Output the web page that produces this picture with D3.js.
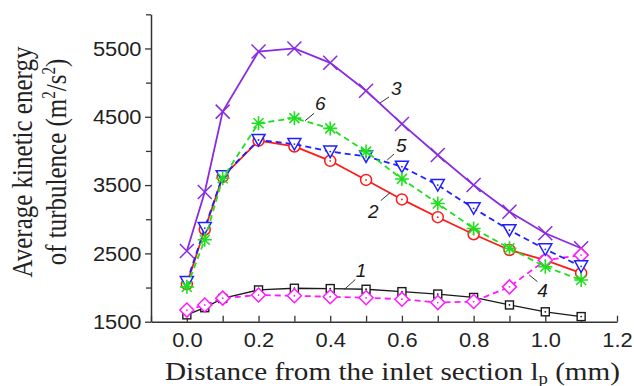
<!DOCTYPE html>
<html>
<head>
<meta charset="utf-8">
<script src="https://cdn.jsdelivr.net/npm/d3@7"></script>
<style>
  body { margin: 0; background: #fff; }
</style>
</head>
<body>
<div id="chart"></div>
<script>
// distance from the inlet section, mm
const distance = [0, 0.05, 0.1, 0.2, 0.3, 0.4, 0.5, 0.6, 0.7, 0.8, 0.9, 1.0, 1.1];

// average kinetic energy of turbulence, m2/s2
const curve1 = [1600, 1705, 1840, 1965, 1990, 1985, 1975, 1940, 1905, 1855, 1745, 1645, 1575];
const curve2 = [2050, 2850, 3620, 4150, 4065, 3855, 3575, 3290, 3030, 2780, 2550, 2400, 2210];
const curve3 = [2535, 3400, 4575, 5455, 5500, 5290, 4880, 4395, 3940, 3500, 3110, 2795, 2575];
const curve4 = [1670, 1745, 1845, 1890, 1880, 1865, 1850, 1830, 1780, 1795, 2010, 2400, 2475];
const curve5 = [2080, 2870, 3630, 4160, 4100, 3990, 3920, 3770, 3500, 3160, 2840, 2560, 2310];
const curve6 = [2010, 2700, 3600, 4405, 4480, 4330, 3990, 3590, 3230, 2865, 2575, 2305, 2110];

const xTicks = [-0.1, 0, 0.1, 0.2, 0.3, 0.4, 0.5, 0.6, 0.7, 0.8, 0.9, 1.0, 1.1, 1.2];
const yTicks = [1500, 2000, 2500, 3000, 3500, 4000, 4500, 5000, 5500, 6000];

// curve numbers: text anchor and leader line, in data units
const labelNames = ["1", "2", "3", "4", "5", "6"];
const labelAt = [[0.486, 2150], [0.520, 3020], [0.584, 4820], [0.992, 1862], [0.598, 3985], [0.372, 4600]];
const leaders = [
  [0.439, 1971, 0.470, 2118],
  [0.567, 3389, 0.541, 3272],
  [0.539, 4702, 0.564, 4790],
  [0.955, 2184, 0.978, 2086],
  [0.559, 3867, 0.578, 3955],
  [0.330, 4443, 0.355, 4551]
];

const series = [
  { values: curve1, color: "#1a1a1a", dash: null, marker: "square", width: 1.3 },
  { values: curve2, color: "#ff1a1a", dash: null, marker: "circle", width: 1.8 },
  { values: curve3, color: "#8a2be2", dash: null, marker: "cross", width: 1.8 },
  { values: curve4, color: "#ff1aff", dash: "6,4", marker: "diamond", width: 1.8 },
  { values: curve5, color: "#1f1fff", dash: "6,4", marker: "triangle", width: 1.8 },
  { values: curve6, color: "#1fe01f", dash: "6,4", marker: "star", width: 1.8 }
];

const width = 634, height = 386;
const serif = "'Liberation Serif', 'Times New Roman', serif";
const sans = "'Liberation Sans', Arial, sans-serif";

const svg = d3.select("#chart").append("svg")
  .attr("width", width)
  .attr("height", height);

const x = d3.scaleLinear().domain([-0.1, 1.2]).range([151, 617]);
const y = d3.scaleLinear().domain([1500, 6000]).range([321.7, 14.3]);

const stretch = 1.12;
function widen(sel) {
  sel.each(function() {
    const w = this.getComputedTextLength();
    d3.select(this).attr("textLength", w * stretch).attr("lengthAdjust", "spacingAndGlyphs");
  });
}

// y axis
const yAxis = svg.append("g")
  .attr("transform", `translate(${x(-0.1)},0)`)
  .call(d3.axisLeft(y).tickValues(yTicks).tickSizeOuter(0)
    .tickFormat(d => (d - 1500) % 1000 === 0 ? d : ""));
yAxis.select(".domain").attr("stroke", "#333").attr("stroke-width", 1.5);
yAxis.selectAll(".tick line").attr("stroke", "#333").attr("stroke-width", 1.3)
  .attr("x2", d => (d - 1500) % 1000 === 0 ? -6 : -5);
yAxis.selectAll(".tick text")
  .attr("x", -9.5).attr("dy", "0.35em")
  .attr("fill", "#222")
  .style("font-family", sans)
  .style("font-size", "19.5px")
  .call(widen);

// x axis
const xAxis = svg.append("g")
  .attr("transform", `translate(0,${y(1500)})`)
  .call(d3.axisBottom(x).tickValues(xTicks).tickSizeInner(-6).tickSizeOuter(0)
    .tickFormat(d => Math.round(d * 10) % 2 === 0 && d >= 0 ? d3.format(".1f")(d) : ""));
xAxis.select(".domain").attr("stroke", "#333").attr("stroke-width", 1.5);
xAxis.selectAll(".tick line").attr("stroke", "#333").attr("stroke-width", 1.3);
xAxis.selectAll(".tick text")
  .attr("y", 25).attr("dy", 0)
  .attr("fill", "#222")
  .style("font-family", sans)
  .style("font-size", "19.5px")
  .call(widen);

// axis titles
svg.append("text")
  .attr("x", 392.5).attr("y", 380)
  .attr("text-anchor", "middle")
  .attr("textLength", 455).attr("lengthAdjust", "spacingAndGlyphs")
  .style("font-family", serif)
  .style("font-size", "25px")
  .attr("fill", "#222")
  .html('Distance from the inlet section l<tspan dy="4" font-size="16px">p</tspan><tspan dy="-4"> (mm)</tspan>');

const yTitle = svg.append("g")
  .attr("transform", "translate(32,162) scale(1.22,1) rotate(-90)");
yTitle.append("text").attr("x", 0).attr("y", 0)
  .attr("text-anchor", "middle")
  .attr("fill", "#222")
  .style("font-family", serif)
  .style("font-size", "25px")
  .text("Average kinetic energy");
yTitle.append("text").attr("x", 0).attr("y", 28)
  .attr("text-anchor", "middle")
  .attr("fill", "#222")
  .style("font-family", serif)
  .style("font-size", "25px")
  .html('of turbulence (m<tspan dy="-9" font-size="15px">2</tspan><tspan dy="9">/s</tspan><tspan dy="-9" font-size="15px">2</tspan><tspan dy="9">)</tspan>');

// markers
function drawMarker(g, type, color) {
  if (type === "square") {
    g.append("rect").attr("x", -4).attr("y", -4).attr("width", 8).attr("height", 8)
      .attr("fill", "#fff").attr("stroke", color).attr("stroke-width", 1.4);
  } else if (type === "circle") {
    g.append("circle").attr("r", 5.5).attr("fill", "#fff").attr("stroke", color).attr("stroke-width", 1.5);
  } else if (type === "diamond") {
    g.append("path").attr("d", "M0,-7L7,0L0,7L-7,0Z")
      .attr("fill", "#fff").attr("stroke", color).attr("stroke-width", 1.5);
  } else if (type === "triangle") {
    g.append("path").attr("d", "M-6.5,-5.5H6.5L0,6Z")
      .attr("fill", "#fff").attr("stroke", color).attr("stroke-width", 1.5);
  } else if (type === "cross") {
    g.append("path").attr("d", "M-7,-7L7,7M-7,7L7,-7")
      .attr("fill", "none").attr("stroke", color).attr("stroke-width", 1.5);
  } else if (type === "star") {
    g.append("path").attr("d", "M-7,0H7M0,-7V7M-5,-5L5,5M-5,5L5,-5")
      .attr("fill", "none").attr("stroke", color).attr("stroke-width", 1.6);
  }
  if (type !== "cross" && type !== "star") {
    g.append("circle").attr("r", 0.9).attr("fill", color);
  }
}

const line = d3.line()
  .x((d, i) => x(distance[i]))
  .y(d => y(d));

series.forEach(s => {
  svg.append("path")
    .datum(s.values)
    .attr("d", line)
    .attr("fill", "none")
    .attr("stroke", s.color)
    .attr("stroke-width", s.width)
    .attr("stroke-dasharray", s.dash);

  svg.append("g").selectAll("g")
    .data(s.values)
    .enter().append("g")
    .attr("transform", (d, i) => `translate(${x(distance[i])},${y(d)})`)
    .each(function() { drawMarker(d3.select(this), s.marker, s.color); });
});

// curve numbers with leader lines
svg.append("g").selectAll("line")
  .data(leaders)
  .enter().append("line")
  .attr("x1", d => x(d[0])).attr("y1", d => y(d[1]))
  .attr("x2", d => x(d[2])).attr("y2", d => y(d[3]))
  .attr("stroke", "#333").attr("stroke-width", 1);

svg.append("g").selectAll("text")
  .data(labelNames)
  .enter().append("text")
  .attr("x", (d, i) => x(labelAt[i][0]))
  .attr("y", (d, i) => y(labelAt[i][1]))
  .attr("text-anchor", "middle")
  .attr("fill", "#1a1a1a")
  .style("font-family", sans)
  .style("font-style", "italic")
  .style("font-size", "19px")
  .text(d => d);
</script>
</body>
</html>
